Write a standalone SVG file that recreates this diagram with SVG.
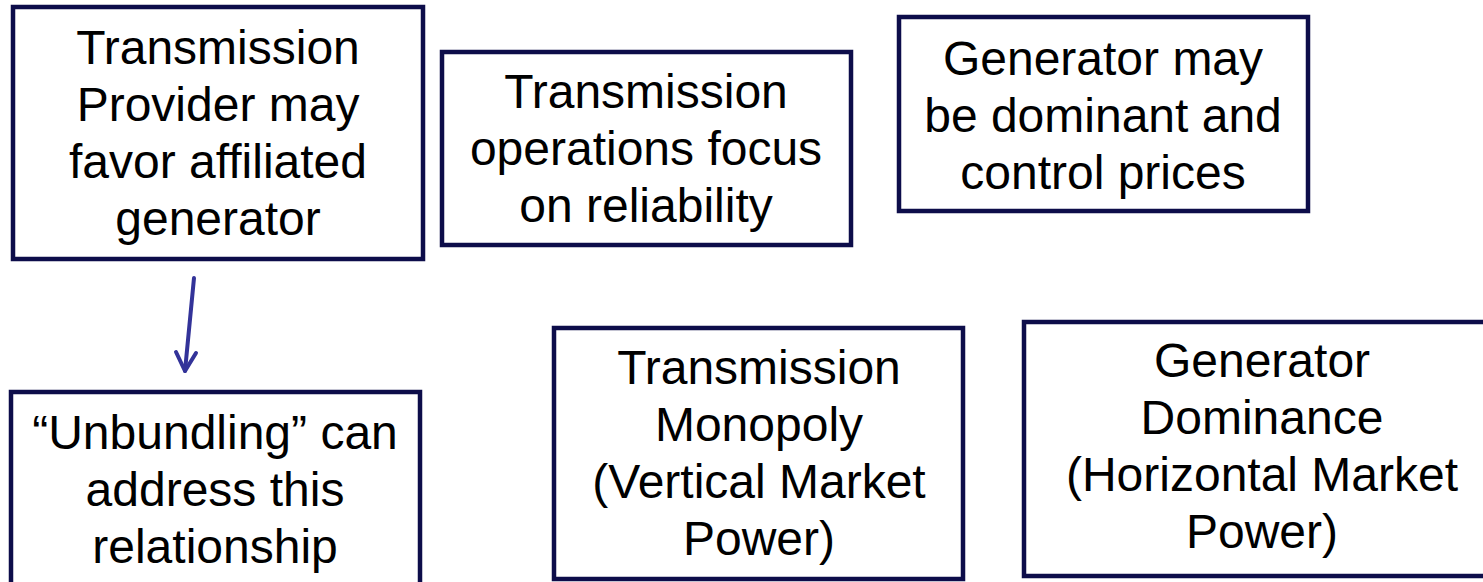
<svg xmlns="http://www.w3.org/2000/svg" width="1483" height="582" viewBox="0 0 1483 582">
<style>
.box{fill:#ffffff;stroke:#0d0d4a;stroke-width:4.5}
.t{font-family:"Liberation Sans",Arial,sans-serif;font-size:48px;fill:#000;text-anchor:middle}
.arr{stroke:#333399;stroke-width:4;fill:none;stroke-linecap:round;stroke-linejoin:round}
</style>
<rect width="1483" height="582" fill="#ffffff"/>
<g id="n1"><rect class="box" x="13" y="7" width="410" height="252"/>
<text class="t" x="218" y="64">Transmission</text><text class="t" x="218" y="121">Provider may</text><text class="t" x="218" y="178">favor affiliated</text><text class="t" x="218" y="235">generator</text></g>
<g id="n2"><rect class="box" x="442" y="52" width="409" height="193"/>
<text class="t" x="646" y="108">Transmission</text><text class="t" x="646" y="165">operations focus</text><text class="t" x="646" y="222">on reliability</text></g>
<g id="n3"><rect class="box" x="899" y="17" width="409" height="194"/>
<text class="t" x="1103" y="75">Generator may</text><text class="t" x="1103" y="132">be dominant and</text><text class="t" x="1103" y="189">control prices</text></g>
<g id="n4"><rect class="box" x="11" y="392" width="409" height="200"/>
<text class="t" x="215" y="449">“Unbundling” can</text><text class="t" x="215" y="506">address this</text><text class="t" x="215" y="563">relationship</text></g>
<g id="n5"><rect class="box" x="554" y="328" width="409" height="251"/>
<text class="t" x="759" y="384">Transmission</text><text class="t" x="759" y="441">Monopoly</text><text class="t" x="759" y="498">(Vertical Market</text><text class="t" x="759" y="555">Power)</text></g>
<g id="n6"><rect class="box" x="1024" y="322" width="470" height="254"/>
<text class="t" x="1262" y="377">Generator</text><text class="t" x="1262" y="434">Dominance</text><text class="t" x="1262" y="491">(Horizontal Market</text><text class="t" x="1262" y="548">Power)</text></g>
<g id="connectors">
<path class="arr" d="M194 278 L185 371"/>
<path class="arr" d="M176 352 L185 371 L196 353"/>
</g>
</svg>
